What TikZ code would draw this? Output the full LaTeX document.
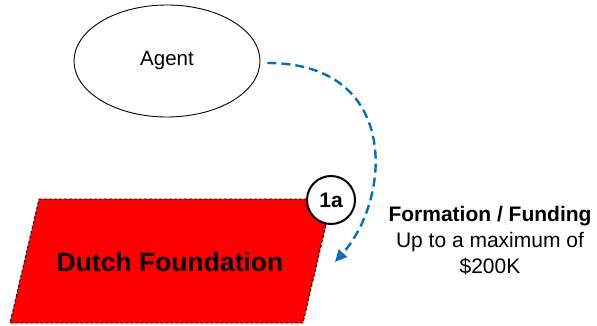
\documentclass[tikz,border=0pt]{standalone}
\usepackage{fontspec}
\setmainfont{Liberation Sans}
\usetikzlibrary{calc, shapes.geometric, arrows.meta}

\definecolor{flowblue}{RGB}{0,112,192}
\definecolor{foundred}{RGB}{255,0,0}

\begin{document}
\begin{tikzpicture}[x=1pt, y=-1pt,
    agentnode/.style={ellipse, draw, line width=0.9pt, minimum width=186, minimum height=112, inner sep=0pt, font=\fontsize{20.5}{24}\selectfont},
    stepmark/.style={circle, draw, line width=2pt, fill=white, minimum size=48, inner sep=0pt, font=\bfseries\fontsize{21}{25}\selectfont},
    flowline/.style={flowblue, line width=2.4pt, dash pattern=on 9pt off 5pt, -{Triangle[length=12pt, width=11pt]}}
  ]
        \useasboundingbox (0,0) rectangle (597,325);
        \pgfmathsetmacro{\ty}{199}
        \pgfmathsetmacro{\by}{323}
        \coordinate (P1) at (39,\ty);
        \coordinate (P2) at (332,\ty);
        \coordinate (P3) at (303,\by);
        \coordinate (P4) at (10,\by);
        \node[agentnode] (agent) at (167,61) {Agent};
        \fill[foundred] (P1) -- (P2) -- (P3) -- (P4) -- cycle;
        \draw[line width=0.9pt, dash pattern=on 3pt off 2pt] (P1) -- (P2) -- (P3) -- (P4) -- cycle;
        \node[font=\bfseries\fontsize{26.5}{30}\selectfont] (found) at (170,262) {Dutch Foundation};
        \node[stepmark] (step1a) at (331,200) {1a};
        \coordinate (tip) at (335,262);
        \draw[flowline] (agent.east) ++(7,2) coordinate (start)
            .. controls (400,63) and (392,198) .. (tip);
        \node[align=center, font=\fontsize{21}{26}\selectfont] (label) at (490,241)
            {\textbf{Formation / Funding}\\Up to a maximum of\\\$200K};
    \end{tikzpicture}
\end{document}
